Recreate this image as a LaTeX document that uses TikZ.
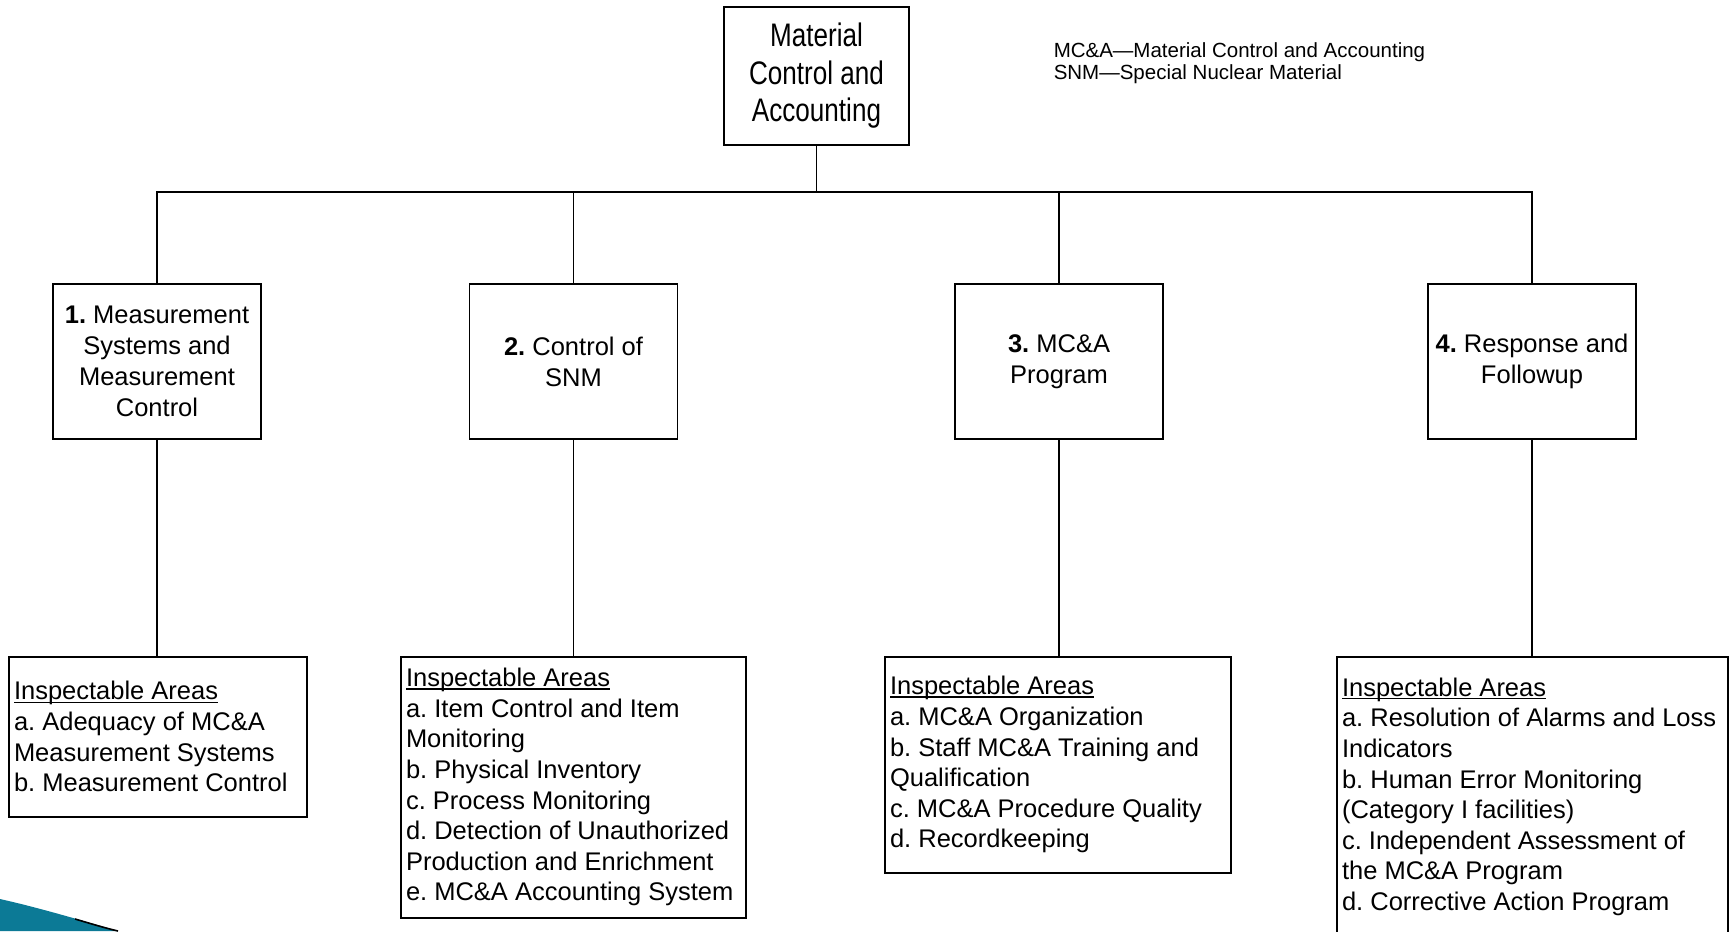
\documentclass[tikz,border=0pt]{standalone}
\usepackage{fontspec}
\setmainfont{Liberation Sans}
\newfontfamily\narrowfont[FakeStretch=0.8]{Liberation Sans}
\definecolor{swoosh}{RGB}{12,122,150}
\newcommand\underl[1]{\setbox0\hbox{#1}\rlap{\rule[-1.4pt]{\wd0}{0.6pt}}#1}
\frenchspacing

\begin{document}
\begin{tikzpicture}[x=0.5pt, y=-0.5pt, line width=0.75pt,
    topbox/.style={draw, align=center, inner sep=0pt, minimum width=92.5pt, minimum height=69pt,
      font=\narrowfont\fontsize{16.3}{18.75}\selectfont},
    areabox/.style={draw, align=center, inner sep=0pt, minimum width=104pt, minimum height=77.5pt,
      font=\fontsize{12.75}{15.4}\selectfont},
    listbox/.style={draw, align=flush left, inner xsep=2.5pt, inner ysep=0pt, anchor=north,
      font=\fontsize{12.75}{15.3}\selectfont},
    legend/.style={align=left, inner sep=0pt, font=\fontsize{10.25}{11}\selectfont}]
  \useasboundingbox (0,0) rectangle (1733,931);
  \clip (0,0) rectangle (1733,931);

  % corner swoosh
  \fill[swoosh] (0,899) .. controls (40,908) and (80,920) .. (118,931) -- (0,931) -- cycle;
  \draw[line width=0.8pt] (75,919) .. controls (92,924) and (105,928) .. (118,931);

  % top
  \node[topbox] (mca) at (816.5,76) {Material\\Control and\\Accounting};
  \node[legend, anchor=north west] (abbr) at (1053,42)
    {MC\&A—Material Control and Accounting\\SNM—Special Nuclear Material};

  % elements
  \node[areabox] (sys) at (157,361.5) {\textbf{1.} Measurement\\Systems and\\Measurement\\Control};
  \node[areabox] (snm) at (573.5,361.5) {\textbf{2.} Control of\\SNM};
  \node[areabox] (prog) at (1059,361.5) {\textbf{3.} MC\&A\\Program};
  \node[areabox] (resp) at (1532,361.5) {\textbf{4.} Response and\\Followup};

  % inspectable areas
  \node[listbox, text width=144pt, minimum height=80pt] (ia1) at (158,656)
    {\underl{Inspectable Areas}\\a. Adequacy of MC\&A\\Measurement Systems\\b. Measurement Control};
  \node[listbox, text width=167.5pt, minimum height=130.5pt] (ia2) at (573.5,656)
    {\underl{Inspectable Areas}\\a. Item Control and Item\\Monitoring\\b. Physical Inventory\\c. Process Monitoring\\d. Detection of Unauthorized\\Production and Enrichment\\e. MC\&A Accounting System};
  \node[listbox, text width=168pt, minimum height=108pt] (ia3) at (1058,656)
    {\underl{Inspectable Areas}\\a. MC\&A Organization\\b. Staff MC\&A Training and\\Qualification\\c. MC\&A Procedure Quality\\d. Recordkeeping};
  \node[listbox, text width=190.5pt, minimum height=140pt] (ia4) at (1532.5,656)
    {\underl{Inspectable Areas}\\a. Resolution of Alarms and Loss\\Indicators\\b. Human Error Monitoring\\(Category I facilities)\\c. Independent Assessment of\\the MC\&A Program\\d. Corrective Action Program};

  % connectors
  \foreach \n in {sys,snm,prog,resp}
    \draw (mca.south) -- ++(0,46) -| (\n.north);
  \foreach \a/\b in {sys/ia1,snm/ia2,prog/ia3,resp/ia4}
    \draw (\a.south) -- (\a.south |- \b.north);
\end{tikzpicture}
\end{document}
